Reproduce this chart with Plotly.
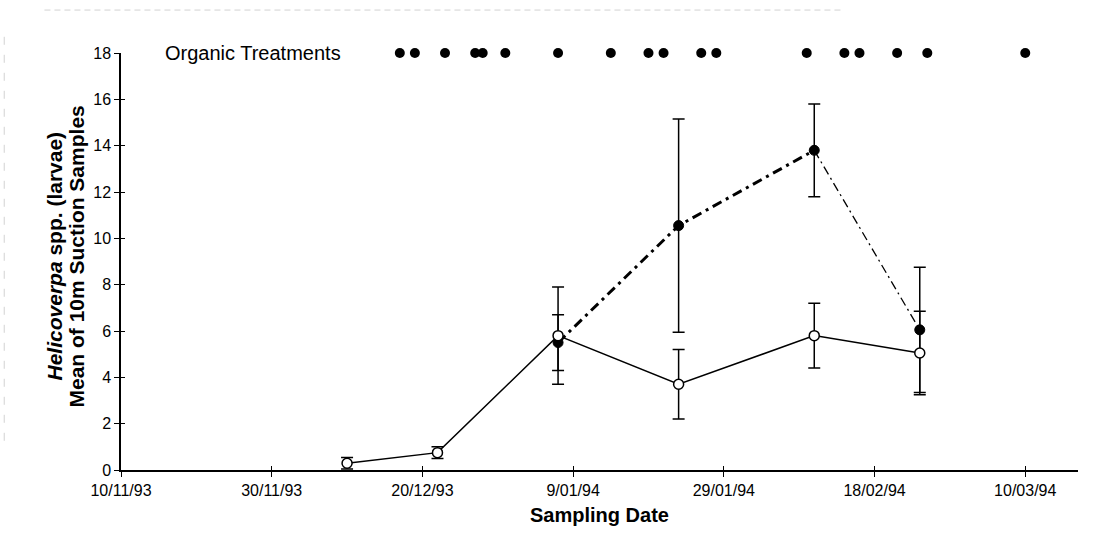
import plotly.graph_objects as go

# Sampling dates and mean larval counts (± error) for the two treatments
sample_dates = ["1993-12-10", "1993-12-22", "1994-01-07", "1994-01-23", "1994-02-10", "1994-02-24"]
open_means = [0.29, 0.75, 5.8, 3.7, 5.8, 5.05]
open_err = [0.25, 0.25, 2.1, 1.5, 1.4, 1.8]

closed_dates = ["1994-01-07", "1994-01-23", "1994-02-10", "1994-02-24"]
closed_means = [5.5, 10.55, 13.8, 6.05]
closed_err = [1.2, 4.6, 2.0, 2.7]

# Dates on which organic treatments were applied
organic_dates = ["1993-12-17", "1993-12-19", "1993-12-23", "1993-12-27", "1993-12-28",
                 "1993-12-31", "1994-01-07", "1994-01-14", "1994-01-19", "1994-01-21",
                 "1994-01-26", "1994-01-28", "1994-02-09", "1994-02-14", "1994-02-16",
                 "1994-02-21", "1994-02-25", "1994-03-10"]
organic_level = [18] * len(organic_dates)

x_range = ["1993-11-10", "1994-03-17"]
y_ticks = list(range(0, 19, 2))

FONT = "Liberation Sans, Arial, sans-serif"
BLACK = "#000000"
FAINT = "#d2d2d2"

fig = go.Figure()

# Closed-circle series: thick dash-dot up to the peak, thinner afterwards
fig.add_trace(go.Scatter(
    x=closed_dates[:3], y=closed_means[:3], mode="lines",
    line=dict(color=BLACK, width=3, dash="10px,5px,3px,5px"),
    hoverinfo="skip", showlegend=False))
fig.add_trace(go.Scatter(
    x=closed_dates[2:], y=closed_means[2:], mode="lines",
    line=dict(color=BLACK, width=1.3, dash="9px,4px,2px,4px"),
    hoverinfo="skip", showlegend=False))
fig.add_trace(go.Scatter(
    x=closed_dates, y=closed_means, mode="markers",
    marker=dict(symbol="circle", size=10, color=BLACK, line=dict(color=BLACK, width=1)),
    error_y=dict(type="data", array=closed_err, color=BLACK, thickness=1.5, width=6),
    showlegend=False))

# Open-circle series with solid line
fig.add_trace(go.Scatter(
    x=sample_dates, y=open_means, mode="lines+markers",
    line=dict(color=BLACK, width=1.5),
    marker=dict(symbol="circle", size=10, color="white", line=dict(color=BLACK, width=1.5)),
    error_y=dict(type="data", array=open_err, color=BLACK, thickness=1.5, width=6),
    showlegend=False))

# Organic treatment application markers along the top
fig.add_trace(go.Scatter(
    x=organic_dates, y=organic_level, mode="markers",
    marker=dict(symbol="circle", size=10, color=BLACK),
    cliponaxis=False, showlegend=False))

# Invisible trace on the overlay axes that carry the inward tick halves
fig.add_trace(go.Scatter(x=x_range, y=[0, 0], xaxis="x2", yaxis="y2",
                         mode="lines", line=dict(width=0), hoverinfo="skip",
                         showlegend=False))

axis_common = dict(showgrid=False, zeroline=False, showline=True,
                   linecolor=BLACK, linewidth=1.5, tickcolor=BLACK,
                   tickwidth=1.2, ticklen=5)

fig.update_layout(
    width=1115, height=541,
    margin=dict(l=121, r=37, t=53, b=71),
    paper_bgcolor="white", plot_bgcolor="white",
    font=dict(family=FONT, color=BLACK, size=16),
    xaxis=dict(type="date", range=x_range, tick0="1993-11-10",
               dtick=20 * 86400000, tickformat="%-d/%m/%y", ticks="outside",
               tickfont=dict(size=16), **axis_common),
    yaxis=dict(range=[0, 18], tickvals=y_ticks, ticks="outside",
               tickfont=dict(size=16), **axis_common),
    xaxis2=dict(type="date", range=x_range, tick0="1993-11-10",
                dtick=20 * 86400000, overlaying="x", ticks="inside",
                showticklabels=False, showgrid=False, zeroline=False,
                showline=False, tickcolor=BLACK, tickwidth=1.2, ticklen=4),
    yaxis2=dict(range=[0, 18], tickvals=y_ticks, overlaying="y", ticks="inside",
                showticklabels=False, showgrid=False, zeroline=False,
                showline=False, tickcolor=BLACK, tickwidth=1.2, ticklen=4),
    shapes=[
        # faint ruled edges of the page
        dict(type="line", xref="paper", yref="paper", x0=-0.08, x1=0.755,
             y0=1.103, y1=1.103, line=dict(color=FAINT, width=1, dash="6px,4px")),
        dict(type="line", xref="paper", yref="paper", x0=-0.122, x1=-0.122,
             y0=0.07, y1=1.06, line=dict(color=FAINT, width=1, dash="8px,10px")),
    ],
    annotations=[
        dict(text="Organic Treatments", xref="paper", x=0, xshift=42, xanchor="left",
             yref="y", y=18, yanchor="middle", showarrow=False,
             font=dict(size=20, family=FONT)),
        dict(text="<b>Sampling Date</b>", xref="paper", x=0.5, xanchor="center",
             yref="paper", y=0, yshift=-45, yanchor="middle", showarrow=False,
             font=dict(size=20, family=FONT)),
        dict(text="<b><i>Helicoverpa</i> spp. (larvae)</b>",
             xref="paper", x=0, xshift=-67, xanchor="center",
             yref="paper", y=0.5, yshift=5, yanchor="middle", textangle=-90,
             showarrow=False, font=dict(size=21, family=FONT)),
        dict(text="<b>Mean of 10m Suction Samples</b>",
             xref="paper", x=0, xshift=-45, xanchor="center",
             yref="paper", y=0.5, yshift=5, yanchor="middle", textangle=-90,
             showarrow=False, font=dict(size=21, family=FONT)),
    ],
)

fig.write_html("out.html")
